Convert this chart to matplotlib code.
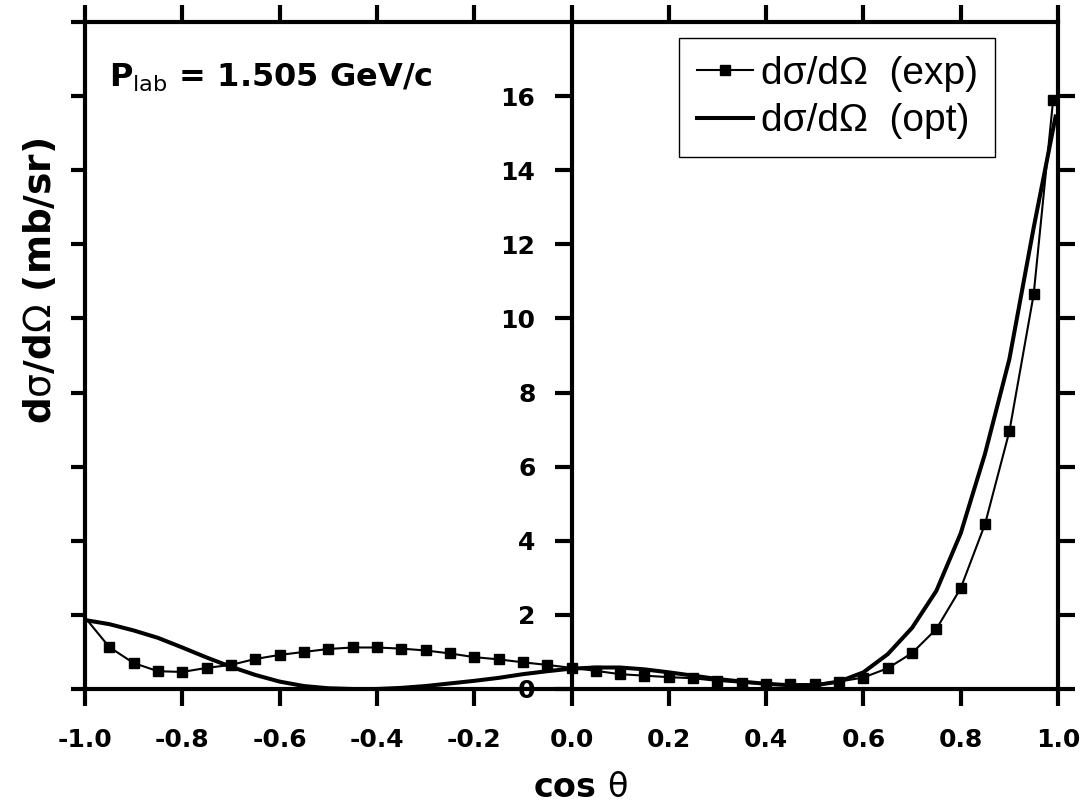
import matplotlib
matplotlib.use("Agg")
import matplotlib.pyplot as plt
from matplotlib.lines import Line2D

# ---------------- data ----------------
exp_x = [-0.995, -0.95, -0.90, -0.85, -0.80, -0.75, -0.70, -0.65, -0.60, -0.55,
         -0.50, -0.45, -0.40, -0.35, -0.30, -0.25, -0.20, -0.15, -0.10, -0.05,
         0.00, 0.05, 0.10, 0.15, 0.20, 0.25, 0.30, 0.35, 0.40, 0.45,
         0.50, 0.55, 0.60, 0.65, 0.70, 0.75, 0.80, 0.85, 0.90, 0.95, 0.99]
exp_y = [1.85, 1.13, 0.70, 0.48, 0.46, 0.57, 0.65, 0.81, 0.92, 1.00,
         1.08, 1.12, 1.12, 1.09, 1.04, 0.96, 0.86, 0.80, 0.72, 0.65,
         0.57, 0.49, 0.40, 0.36, 0.32, 0.29, 0.22, 0.17, 0.14, 0.13,
         0.13, 0.20, 0.31, 0.56, 0.97, 1.62, 2.72, 4.45, 6.95, 10.65, 15.9]

opt_x = [-0.995, -0.95, -0.90, -0.85, -0.80, -0.75, -0.70, -0.65, -0.60, -0.55,
         -0.50, -0.45, -0.40, -0.35, -0.30, -0.25, -0.20, -0.15, -0.10, -0.05,
         0.00, 0.05, 0.10, 0.15, 0.20, 0.25, 0.30, 0.35, 0.40, 0.45,
         0.50, 0.55, 0.60, 0.65, 0.70, 0.75, 0.80, 0.85, 0.90, 0.95, 0.995]
opt_y = [1.85, 1.75, 1.58, 1.38, 1.12, 0.85, 0.60, 0.38, 0.20, 0.08,
         0.02, 0.00, 0.00, 0.03, 0.08, 0.15, 0.22, 0.30, 0.40, 0.48,
         0.55, 0.58, 0.58, 0.53, 0.45, 0.36, 0.27, 0.20, 0.14, 0.10,
         0.10, 0.20, 0.45, 0.94, 1.65, 2.65, 4.20, 6.35, 8.90, 12.45, 15.45]

x_ticks = [-1.0, -0.8, -0.6, -0.4, -0.2, 0.0, 0.2, 0.4, 0.6, 0.8, 1.0]
x_tick_labels = ["-1.0", "-0.8", "-0.6", "-0.4", "-0.2", "0.0", "0.2", "0.4", "0.6", "0.8", "1.0"]
y_ticks = [0, 2, 4, 6, 8, 10, 12, 14, 16]
y_frame_ticks = [0, 2, 4, 6, 8, 10, 12, 14, 16, 18]
y_tick_labels = ["0", "2", "4", "6", "8", "10", "12", "14", "16"]

legend_labels = ["d\u03c3/d\u03a9  (exp)", "d\u03c3/d\u03a9  (opt)"]
annot_text = r"$\mathbf{P}_{\mathrm{lab}}$ = 1.505 GeV/c"
x_label = r"cos $\mathrm{\theta}$"
y_label = r"d$\mathrm{\sigma}$/d$\mathrm{\Omega}$ (mb/sr)"

# ---------------- figure ----------------
plt.rcParams['font.family'] = ['DejaVu Sans']
W, H = 1088, 809
fig = plt.figure(figsize=(W / 100, H / 100), dpi=100)
fig.patch.set_facecolor("white")

L, R, T, B = 85, 1058, 22, 689
pos = [L / W, 1 - B / H, (R - L) / W, (B - T) / H]

# frame axes (left spine + its ticks)
frame = fig.add_axes(pos)
frame.set_xlim(-1.0, 1.0)
frame.set_ylim(0, 18)
frame.patch.set_visible(False)
for name, s in frame.spines.items():
    s.set_visible(name == "left")
    s.set_linewidth(3)
frame.set_xticks([])
frame.set_yticks(y_frame_ticks)
frame.tick_params(axis="y", left=True, right=False, labelleft=False,
                  direction="out", length=10, width=3)

# data axes with the y axis through x = 0
ax = fig.add_axes(pos)
ax.patch.set_visible(False)
ax.set_xlim(-1.0, 1.0)
ax.set_ylim(0, 18)

ax.plot(opt_x, opt_y, color="black", lw=2.9, solid_joinstyle="round", zorder=3)
ax.plot(exp_x, exp_y, color="black", lw=1.5, marker="s", markersize=7,
        markevery=slice(1, None), zorder=4)

for s in ax.spines.values():
    s.set_linewidth(3)
    s.set_color("black")
ax.spines["left"].set_position(("data", 0.0))

ax.set_xticks(x_ticks)
ax.set_xticklabels(x_tick_labels, fontsize=18, fontweight="bold")
ax.set_yticks(y_ticks)
ax.set_yticklabels(y_tick_labels, fontsize=18, fontweight="bold")
ax.tick_params(axis="x", which="both", bottom=True, top=True, direction="out",
               length=12, width=3, pad=16)
ax.tick_params(axis="y", which="both", left=True, right=True, labelleft=True,
               labelright=False, direction="out", length=12, width=3, pad=14)

# legend
handles = [Line2D([], [], color="black", lw=1.5, marker="s", markersize=7),
           Line2D([], [], color="black", lw=2.9)]
leg = ax.legend(handles, legend_labels, loc="upper left",
                bbox_to_anchor=(679 / W, 1 - 38 / H), bbox_transform=fig.transFigure,
                borderaxespad=0, frameon=True, fancybox=False, framealpha=1,
                edgecolor="black", handlelength=1.45, handletextpad=0.2,
                labelspacing=0.3, borderpad=0.45,
                prop={"family": "Liberation Sans", "size": 28})
leg.get_frame().set_linewidth(1.0)

# annotation
fig.text(109 / W, 1 - 87 / H, annot_text, fontsize=23, fontweight="bold",
         ha="left", va="baseline")

# axis labels
fig.text(580 / W, 1 - 797 / H, x_label, fontsize=24, fontweight="bold",
         ha="center", va="baseline")
fig.text(41 / W, 1 - 281 / H, y_label, fontsize=27, fontweight="bold",
         rotation=90, ha="center", va="center")

fig.savefig("out.png", dpi=100)
